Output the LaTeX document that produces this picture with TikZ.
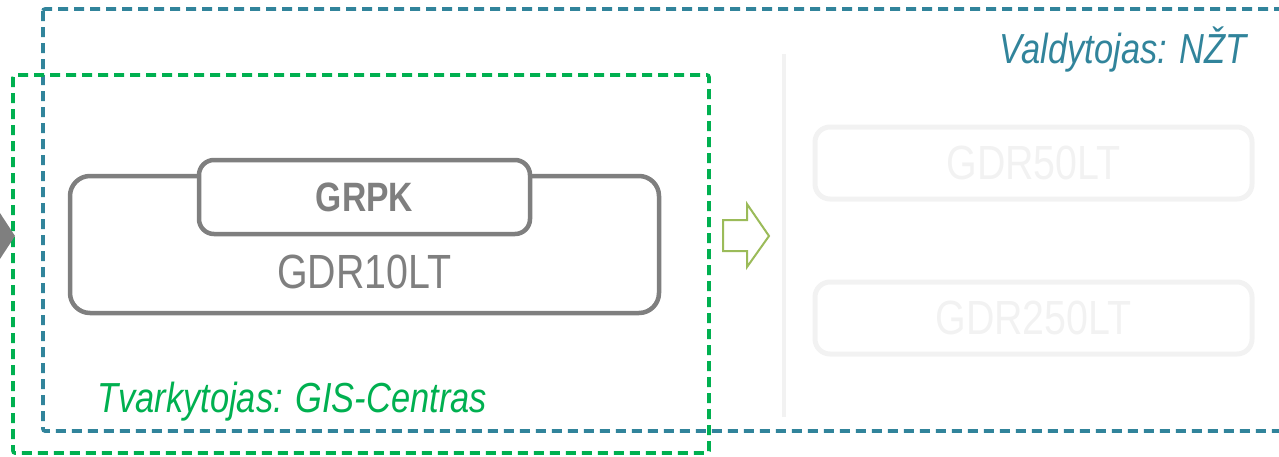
\documentclass[tikz,border=0pt]{standalone}
\usepackage{fontspec}
\setmainfont[FakeStretch=0.82]{Liberation Sans}
\usetikzlibrary{positioning}
\definecolor{boxgray}{HTML}{7F7F7F}
\definecolor{fadegray}{HTML}{F2F2F2}
\definecolor{nztblue}{HTML}{31849B}
\definecolor{gisgreen}{HTML}{00B050}
\definecolor{arrowgreen}{HTML}{9BBB59}
\tikzset
{
    owner/.style   = {draw=#1, line width=3.6pt, dash pattern=on 10pt off 6pt, rounded corners=2pt},
    dataset/.style = {rectangle, rounded corners=20pt, draw=boxgray, line width=4.5pt, inner sep=0pt, outer sep=0pt},
    product/.style = {rectangle, rounded corners=15pt, draw=boxgray, fill=white, line width=4.5pt, inner sep=0pt, outer sep=0pt, text=boxgray},
    faded/.style   = {rectangle, rounded corners=15pt, draw=fadegray, line width=5pt, inner sep=0pt, outer sep=0pt, text=fadegray, minimum width=437pt, minimum height=72pt},
    role/.style    = {inner sep=0pt, font=\fontsize{42}{46}\selectfont\itshape}
}

\begin{document}
\begin{tikzpicture}[x=1pt, y=-1pt]
        \useasboundingbox (0,0) rectangle (1279,456);

        % owner frames
        \draw[owner=nztblue] (43,9) rectangle (1300,431);
        \draw[owner=gisgreen] (13,75) rectangle (709,453);

        % incoming arrow tip at the left edge
        \fill[boxgray] (-2,210) -- (15,236) -- (-2,262) -- cycle;

        % GDR10LT with GRPK on top
        \node (gdr10) [dataset, minimum width=589pt, minimum height=137pt] at (364.5,244.5) {};
        \node (grpk) [product, minimum width=331pt, minimum height=74pt, font=\fontsize{41}{45}\selectfont\bfseries] at (364.5,197) {GRPK};
        \node (gdr10txt) [text=boxgray, inner sep=0pt, font=\fontsize{48}{52}\selectfont] at (364.5,272) {GDR10LT};

        % hollow arrow
        \draw[arrowgreen, line width=2pt, line join=miter]
            (723,220) -- (747,220) -- (747,204) -- (769,236) -- (747,267) -- (747,251) -- (723,251) -- cycle;

        % faded datasets
        \draw[fadegray, line width=4pt] (784,54) -- (784,417);
        \node (gdr50) [faded, font=\fontsize{48}{52}\selectfont] at (1033.5,163) {GDR50LT};
        \node (gdr250) [faded, font=\fontsize{48}{52}\selectfont, below=155pt of gdr50.center, anchor=center] {GDR250LT};

        % owners
        \node (nzt) [role, text=nztblue, anchor=base east] at (1247,63) {Valdytojas: NŽT};
        \node (gis) [role, text=gisgreen, anchor=base west] at (97,412) {Tvarkytojas: GIS-Centras};
\end{tikzpicture}
\end{document}
